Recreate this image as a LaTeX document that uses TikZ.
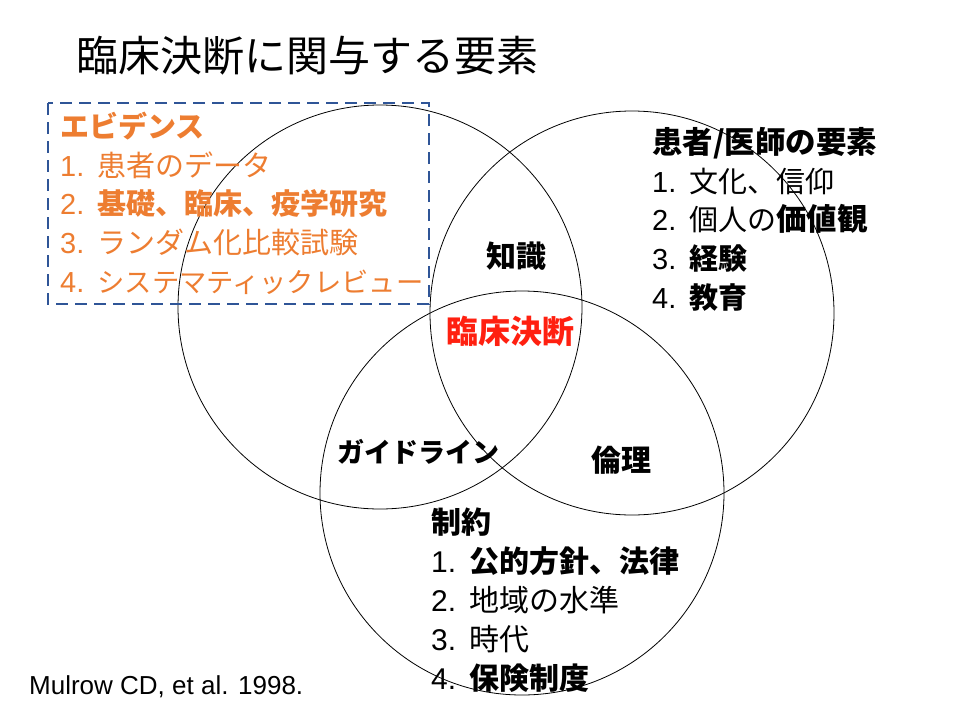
\documentclass[tikz,border=0pt]{standalone}
\usepackage{fontspec}
\setmainfont{Liberation Sans}
\newfontfamily\jp{Noto Sans CJK JP}
\definecolor{evidorange}{HTML}{ED7D31}
\definecolor{boxblue}{HTML}{2F5597}
\definecolor{decired}{HTML}{FF2010}
\newcommand\itemno[1]{#1.\hspace{0.45em}}
\tikzset{
  venn/.style={draw=black, line width=0.8pt},
  itemlist/.style={anchor=base west, align=left, inner sep=0pt, font=\fontsize{29}{38.6}\selectfont},
  venntext/.style={inner sep=0pt, font=\jp\bfseries\fontsize{30}{36}\selectfont}
}
\begin{document}
\begin{tikzpicture}[x=1pt, y=-1pt]
        \useasboundingbox (0,0) rectangle (960,720);
        % point
        \coordinate (c1) at (380,307);
        \coordinate (c2) at (632,313);
        \coordinate (c3) at (522,493);
        % circle
        \draw[venn] (c1) circle[radius=202pt];
        \draw[venn] (c2) circle[radius=202pt];
        \draw[venn] (c3) circle[radius=202pt];
        % title
        \node[anchor=base west, inner sep=0pt, font=\jp\fontsize{42}{48}\selectfont] (title) at (76,71) {臨床決断に関与する要素};
        % evidence box (anchored at the last line)
        \draw[boxblue, line width=2.6pt, dash pattern=on 12pt off 7pt] (48,103) rectangle (429,304);
        \node[itemlist, text=evidorange] (evid) at (60,292) {{\jp\bfseries エビデンス}\\
          \itemno{1}{\jp 患者のデータ}\\
          \itemno{2}{\jp\bfseries 基礎、臨床、疫学研究}\\
          \itemno{3}{\jp ランダム化比較試験}\\
          \itemno{4}{\jp\fontsize{27.3}{38.6}\selectfont システマティックレビュー}};
        % patient and doctor
        \node[itemlist] (pat) at (652,308) {{\jp\bfseries\fontsize{30.5}{38.6}\selectfont 患者/医師の要素}\\
          \itemno{1}{\jp 文化、信仰}\\
          \itemno{2}{\jp 個人の\bfseries\fontsize{30.5}{38.6}\selectfont 価値観}\\
          \itemno{3}{\jp\bfseries 経験}\\
          \itemno{4}{\jp\bfseries 教育}};
        % constraints
        \node[itemlist, font=\fontsize{30}{38.8}\selectfont] (cons) at (431,689) {{\jp\bfseries 制約}\\
          \itemno{1}{\jp\bfseries 公的方針、法律}\\
          \itemno{2}{\jp 地域の水準}\\
          \itemno{3}{\jp 時代}\\
          \itemno{4}{\jp\bfseries 保険制度}};
        % overlaps
        \node[venntext] (know) at (516,256) {知識};
        \node[venntext, font=\jp\bfseries\fontsize{32}{36}\selectfont, text=decired] (decis) at (510,331) {臨床決断};
        \node[venntext, font=\jp\bfseries\fontsize{27}{36}\selectfont] (guide) at (418,452) {ガイドライン};
        \node[venntext] (ethic) at (621,460) {倫理};
        % reference
        \node[anchor=base west, inner sep=0pt, font=\fontsize{26}{30}\selectfont] (ref) at (29,694) {Mulrow CD, et al. 1998.};
\end{tikzpicture}
\end{document}
